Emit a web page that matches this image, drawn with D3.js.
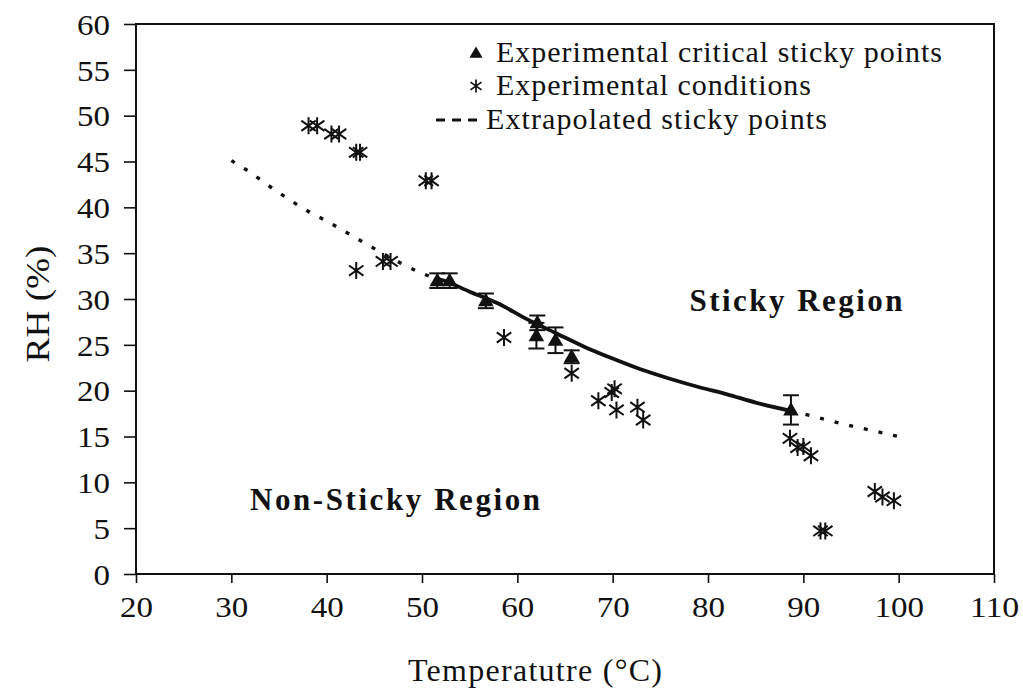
<!DOCTYPE html>
<html>
<head>
<meta charset="utf-8">
<script src="https://cdn.jsdelivr.net/npm/d3@7"></script>
<style>
  html, body { margin: 0; padding: 0; background: #fff; }
  svg { display: block; }
  text { font-family: "Liberation Serif", "Times New Roman", serif; fill: #111; }
</style>
</head>
<body>
<svg id="chart" width="1023" height="695"></svg>
<script>
// Axis ticks
const tempTicks = [20, 30, 40, 50, 60, 70, 80, 90, 100, 110];
const rhTicks = [0, 5, 10, 15, 20, 25, 30, 35, 40, 45, 50, 55, 60];

// Experimental critical sticky points (temperature, RH, error bar half-height)
const critTemp = [51.6, 52.9, 56.7, 62.0, 62.1, 64.0, 65.7, 88.7];
const critRH   = [32.0, 32.0, 29.8, 26.0, 27.4, 25.5, 23.7, 17.9];
const critErr  = [0.8, 0.8, 0.8, 1.4, 0.8, 1.4, 0.7, 1.6];

// Experimental conditions
const condTemp = [38.1, 39.0, 40.5, 41.3, 43.1, 43.5, 50.4, 51.0, 43.1, 45.9, 46.7,
                  58.6, 65.7, 68.5, 69.9, 70.2, 70.4, 72.6, 73.2, 88.6, 89.4, 90.0,
                  90.8, 91.8, 92.3, 97.5, 98.3, 99.5];
const condRH   = [48.9, 48.9, 48.0, 48.0, 46.0, 46.0, 42.9, 42.9, 33.1, 34.1, 34.1,
                  25.8, 21.9, 18.9, 19.8, 20.2, 17.9, 18.2, 16.8, 14.8, 13.8, 13.9,
                  12.9, 4.7, 4.7, 9.0, 8.4, 8.0];

// Sticky-point curve: dotted where extrapolated, solid over the measured range
const curveTemp = [30, 32, 34, 36, 38, 40, 42, 44, 46, 48, 50, 51.6,
                   52, 55, 58, 61, 64, 67, 70, 73, 76, 79, 82, 85, 88.7,
                   91, 94, 97, 100];
const curveRH   = [45.1, 43.8, 42.3, 40.9, 39.6, 38.5, 37.3, 36.1, 34.9, 33.8, 32.8, 32.2,
                   32.1, 30.8, 29.5, 27.8, 26.3, 24.8, 23.5, 22.3, 21.3, 20.4, 19.6, 18.7, 17.8,
                   17.2, 16.4, 15.7, 15.0];
const solidFrom = 51.6, solidTo = 88.7;

const legendLabels = ["Experimental critical sticky points", "Experimental conditions", "Extrapolated sticky points"];

const svg = d3.select("#chart");
const plotL = 136, plotR = 994, plotT = 24, plotB = 574;

const x = d3.scaleLinear().domain([20, 110]).range([plotL, plotR]);
const y = d3.scaleLinear().domain([0, 60]).range([plotB, plotT]);

// Set a text element to a given width
function fit(sel, w, mode) {
  return sel.attr("textLength", w).attr("lengthAdjust", mode || "spacing");
}

// Plot frame
svg.append("rect")
  .attr("x", plotL).attr("y", plotT)
  .attr("width", plotR - plotL).attr("height", plotB - plotT)
  .attr("fill", "none").attr("stroke", "#111").attr("stroke-width", 2);

// Axes
const yAxis = svg.append("g")
  .attr("transform", `translate(${plotL},0)`)
  .call(d3.axisLeft(y).tickValues(rhTicks).tickSize(12).tickSizeOuter(0).tickPadding(14));
const xAxis = svg.append("g")
  .attr("transform", `translate(0,${plotB})`)
  .call(d3.axisBottom(x).tickValues(tempTicks).tickSize(9).tickSizeOuter(0).tickPadding(13));
[yAxis, xAxis].forEach(g => {
  g.select(".domain").remove();
  g.selectAll(".tick line").attr("stroke", "#111").attr("stroke-width", 1.6);
  g.selectAll(".tick text")
    .style("font-family", '"Liberation Serif", serif')
    .style("font-size", "30px").attr("fill", "#222")
    .each(function(d) { fit(d3.select(this), String(d).length * 16.5, "spacingAndGlyphs"); });
});
yAxis.selectAll(".tick text").attr("dy", "0.34em");

// Axis titles
fit(svg.append("text")
  .attr("x", 535).attr("y", 681)
  .attr("text-anchor", "middle").style("font-size", "32px")
  .text("Temperatutre (°C)"), 254);
fit(svg.append("text")
  .attr("transform", `translate(49,304) rotate(-90)`)
  .attr("text-anchor", "middle").style("font-size", "33px")
  .text("RH (%)"), 117, "spacingAndGlyphs");

// Curve
const pts = curveTemp.map((t, i) => [t, curveRH[i]]);
const line = d3.line().x(d => x(d[0])).y(d => y(d[1])).curve(d3.curveMonotoneX);
const leftPart = pts.filter(d => d[0] <= solidFrom);
const midPart = pts.filter(d => d[0] >= solidFrom && d[0] <= solidTo);
const rightPart = pts.filter(d => d[0] >= solidTo);
[leftPart, rightPart].forEach(part => {
  svg.append("path").datum(part).attr("d", line).attr("fill", "none")
    .attr("stroke", "#111").attr("stroke-width", 3.4)
    .attr("stroke-dasharray", "4 11");
});
svg.append("path").datum(midPart).attr("d", line)
  .attr("fill", "none").attr("stroke", "#111").attr("stroke-width", 3.8);

// Star marker: vertical bar with two diagonals
function starPath(cx, cy, r) {
  const dx = r * 0.85, dy = r * 0.6;
  return `M${cx},${cy - r}L${cx},${cy + r}` +
         `M${cx - dx},${cy - dy}L${cx + dx},${cy + dy}` +
         `M${cx - dx},${cy + dy}L${cx + dx},${cy - dy}`;
}

// Experimental conditions
svg.append("g").selectAll("path")
  .data(condTemp.map((t, i) => [t, condRH[i]]))
  .join("path")
  .attr("d", d => starPath(x(d[0]), y(d[1]), 8.5))
  .attr("fill", "none").attr("stroke", "#111").attr("stroke-width", 2);

// Error bars for critical points
const crit = critTemp.map((t, i) => ({ t, rh: critRH[i], e: critErr[i] }));
const eb = svg.append("g").attr("stroke", "#111").attr("stroke-width", 2);
crit.forEach(d => {
  const cx = x(d.t);
  eb.append("line").attr("x1", cx).attr("x2", cx).attr("y1", y(d.rh + d.e)).attr("y2", y(d.rh - d.e));
  [d.rh + d.e, d.rh - d.e].forEach(v => {
    eb.append("line").attr("x1", cx - 8).attr("x2", cx + 8).attr("y1", y(v)).attr("y2", y(v));
  });
});

// Critical sticky point triangles
const tri = d3.symbol().type(d3.symbolTriangle).size(105);
svg.append("g").selectAll("path")
  .data(crit).join("path")
  .attr("transform", d => `translate(${x(d.t)},${y(d.rh) + 1})`)
  .attr("d", tri).attr("fill", "#111");

// Region labels
fit(svg.append("text").attr("x", 796).attr("y", 311)
  .attr("text-anchor", "middle").style("font-size", "31px").style("font-weight", "bold")
  .text("Sticky Region"), 213);
fit(svg.append("text").attr("x", 395).attr("y", 510)
  .attr("text-anchor", "middle").style("font-size", "31px").style("font-weight", "bold")
  .text("Non-Sticky Region"), 290);

// Legend
const lg = svg.append("g");
lg.append("path")
  .attr("transform", `translate(476,54)`)
  .attr("d", d3.symbol().type(d3.symbolTriangle).size(75)).attr("fill", "#111");
lg.append("path").attr("d", starPath(476, 86, 6.5))
  .attr("fill", "none").attr("stroke", "#111").attr("stroke-width", 1.7);
lg.append("line").attr("x1", 436).attr("x2", 482).attr("y1", 120).attr("y2", 120)
  .attr("stroke", "#111").attr("stroke-width", 3).attr("stroke-dasharray", "9 7");
const legendY = [62, 95, 129];
const legendX = [496, 496, 486];
const legendW = [446, 315, 341];
legendLabels.forEach((s, i) => {
  fit(lg.append("text").attr("x", legendX[i]).attr("y", legendY[i])
    .style("font-size", "30px").text(s), legendW[i]);
});
</script>
</body>
</html>
